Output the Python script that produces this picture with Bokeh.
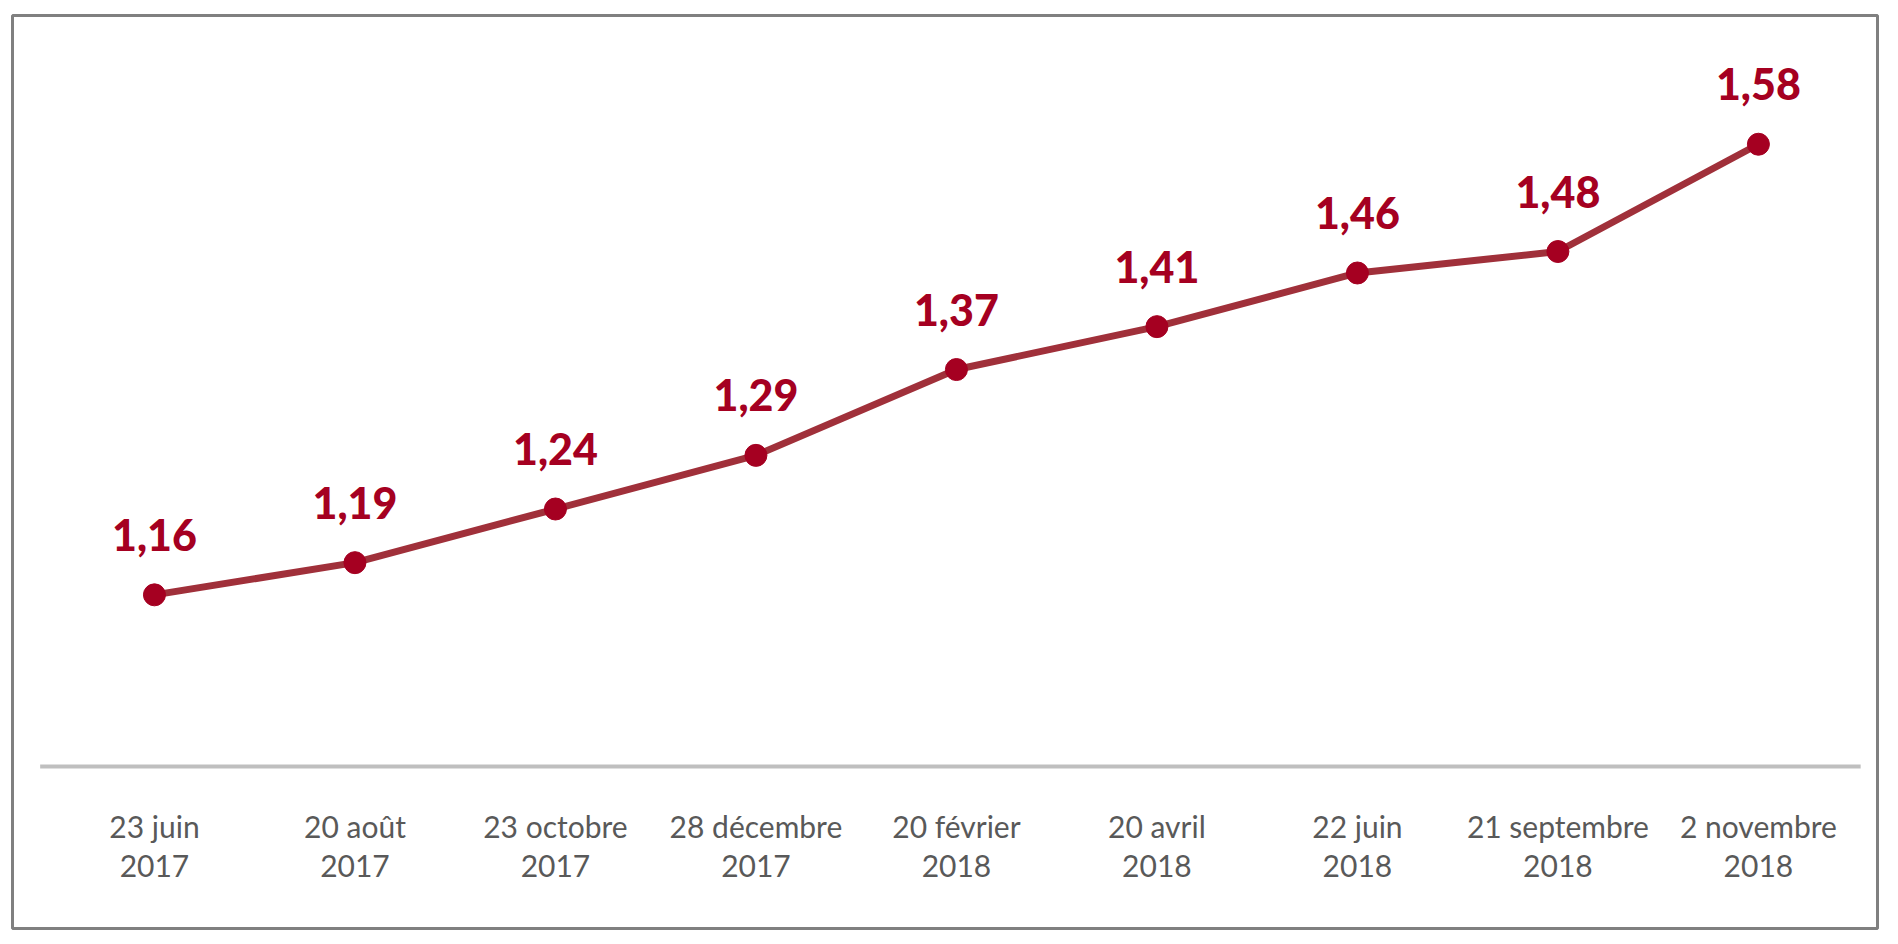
from bokeh.plotting import figure
from bokeh.models import Range1d, ColumnDataSource
from bokeh.core.properties import value
from bokeh.embed import file_html
from bokeh.resources import INLINE

# dates du relevé (deux lignes par étiquette)
dates = ["23 juin\n2017", "20 août\n2017", "23 octobre\n2017", "28 décembre\n2017",
         "20 février\n2018", "20 avril\n2018", "22 juin\n2018", "21 septembre\n2018",
         "2 novembre\n2018"]
valeurs = [1.16, 1.19, 1.24, 1.29, 1.37, 1.41, 1.46, 1.48, 1.58]
etiquettes = ["1,16", "1,19", "1,24", "1,29", "1,37", "1,41", "1,46", "1,48", "1,58"]

ROUGE = "#a50021"
LIGNE = "#a0303a"
GRIS = "#595959"

x = list(range(len(dates)))
source = ColumnDataSource(data=dict(
    x=x,
    y=valeurs,
    label=etiquettes,
    ligne1=[d.split("\n")[0] for d in dates],
    ligne2=[d.split("\n")[1] for d in dates],
))

p = figure(width=1890,
           height=936,
           x_range=Range1d(-0.708, 8.594),
           y_range=Range1d(0.849, 1.700),
           x_axis_location=None,
           y_axis_location=None,
           toolbar_location=None,
           output_backend="svg",
           min_border_left=12,
           min_border_right=13,
           min_border_top=15,
           min_border_bottom=8)

p.grid.visible = False
p.outline_line_color = "#808080"
p.outline_line_width = 3
p.background_fill_color = "white"
p.border_fill_color = "white"

# ligne de base (axe des abscisses)
p.segment(x0=-0.57, x1=8.51, y0=1.0, y1=1.0, line_color="#bfbfbf", line_width=4)

p.line(x="x", y="y", source=source, line_color=LIGNE, line_width=7)
p.scatter(x="x", y="y", source=source, size=22, fill_color=ROUGE, line_color=ROUGE)

p.text(x="x", y="y", text="label", source=source,
       text_font=value("Lato Black, Lato"), text_font_style="bold", text_font_size="43px",
       text_color=ROUGE, text_align="center", text_baseline="alphabetic",
       y_offset=-60)

# étiquettes des dates sous la ligne de base
p.text(x="x", y=0.945, text="ligne1", source=source,
       text_font=value("Lato"), text_font_size="30px", text_color=GRIS,
       text_align="center", text_baseline="alphabetic")
p.text(x="x", y=0.9077, text="ligne2", source=source,
       text_font=value("Lato"), text_font_size="30px", text_color=GRIS,
       text_align="center", text_baseline="alphabetic")

open("out.html", "w").write(file_html(p, INLINE))
